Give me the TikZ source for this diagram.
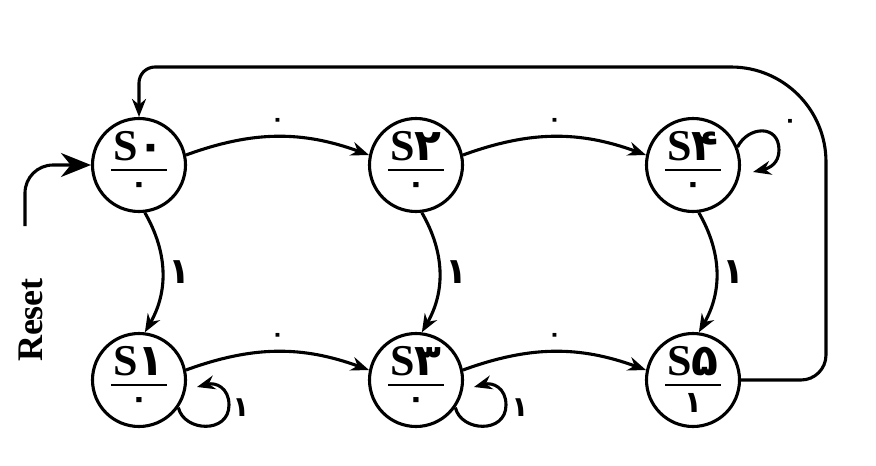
\documentclass[tikz,border=0pt]{standalone}
\usepackage{fontspec}
\setmainfont{Liberation Serif}
\newfontfamily\fa[Script=Arabic]{DejaVu Sans}
\usetikzlibrary{arrows.meta}
\begin{document}
\begin{tikzpicture}[x=1pt,y=1pt,line width=3.1pt,
  state/.style={draw,circle,minimum size=93pt,inner sep=0pt},
  arr/.style={-{Stealth[length=18pt,width=14pt]}},
  bigarr/.style={-{Stealth[length=30pt,width=24pt]}},
  sname/.style={inner sep=0pt,anchor=base,text height=28pt,text depth=0pt,font=\fontsize{44}{44}\selectfont\bfseries},
  outl/.style={inner sep=0pt,font=\fontsize{30}{30}\fa\bfseries},
  zlbl/.style={inner sep=0pt,font=\fontsize{22}{22}\fa\bfseries},
  olbl/.style={inner sep=0pt,font=\fontsize{36}{36}\fa\bfseries},
  lolbl/.style={inner sep=0pt,font=\fontsize{28}{28}\fa\bfseries}]
\useasboundingbox (0,0) rectangle (876,-466);
\newcommand\mystate[5]{%
  \node[state] (#1) at (#2,#3) {};
  \node[sname] (#1n) at ([yshift=5pt]#1.center) {S\fa#4};
  \draw[line width=2.8pt] ([xshift=-28pt,yshift=-5pt]#1.center) -- ([xshift=28pt,yshift=-5pt]#1.center);
  \node[outl] (#1o) at ([yshift=-23pt]#1.center) {#5};
}
\mystate{s0}{139}{-165}{۰}{۰}
\mystate{s2}{416}{-165}{۲}{۰}
\mystate{s4}{693}{-165}{۴}{۰}
\mystate{s1}{139}{-380}{۱}{۰}
\mystate{s3}{416}{-380}{۳}{۰}
\mystate{s5}{693}{-380}{۵}{۱}
% horizontal transitions
\draw[arr] (s0.12) to[out=20,in=160] node[zlbl,midway,above=9pt] (l02) {۰} (s2.168);
\draw[arr] (s2.12) to[out=20,in=160] node[zlbl,midway,above=9pt] (l24) {۰} (s4.168);
\draw[arr] (s1.12) to[out=20,in=160] node[zlbl,midway,above=9pt] (l13) {۰} (s3.168);
\draw[arr] (s3.12) to[out=20,in=160] node[zlbl,midway,above=9pt] (l35) {۰} (s5.168);
% vertical transitions
\draw[arr] (s0.-83) to[out=-60,in=60] node[olbl,midway,right=5pt] (l01) {۱} (s1.83);
\draw[arr] (s2.-83) to[out=-60,in=60] node[olbl,midway,right=5pt] (l23) {۱} (s3.83);
\draw[arr] (s4.-83) to[out=-60,in=60] node[olbl,midway,right=5pt] (l45) {۱} (s5.83);
% self loops
\coordinate (s4e) at (753,-172);
\draw[arr] (s4.22) .. controls (748,-126) and (779,-124) .. (779,-150) .. controls (779,-163) and (770,-168) .. (s4e);
\node[zlbl] (l44) at (790,-123) {۰};
\coordinate (s1e) at (197,-387);
\draw[arr] (s1.-35) .. controls (184,-432) and (229,-434) .. (229,-405) .. controls (229,-388) and (216,-382) .. (s1e);
\node[lolbl] (l11) at (241,-408) {۱};
\coordinate (s3e) at (474,-387);
\draw[arr] (s3.-35) .. controls (461,-432) and (506,-434) .. (506,-405) .. controls (506,-388) and (493,-382) .. (s3e);
\node[lolbl] (l33) at (520,-408) {۱};
% feedback
\draw[arr] (s5.east) [rounded corners=25pt] -- (826,-380) [rounded corners=95pt] -- (826,-67) [rounded corners=16pt] -- (139,-67) -- (s0.north);
% reset
\coordinate (rs) at (25,-226);
\draw[bigarr,rounded corners=28pt] (rs) -- (25,-165) -- (s0.west);
\node[rotate=90,inner sep=0pt,font=\fontsize{36}{36}\selectfont\bfseries] (reset) at (31,-320) {Reset};
\end{tikzpicture}
\end{document}
